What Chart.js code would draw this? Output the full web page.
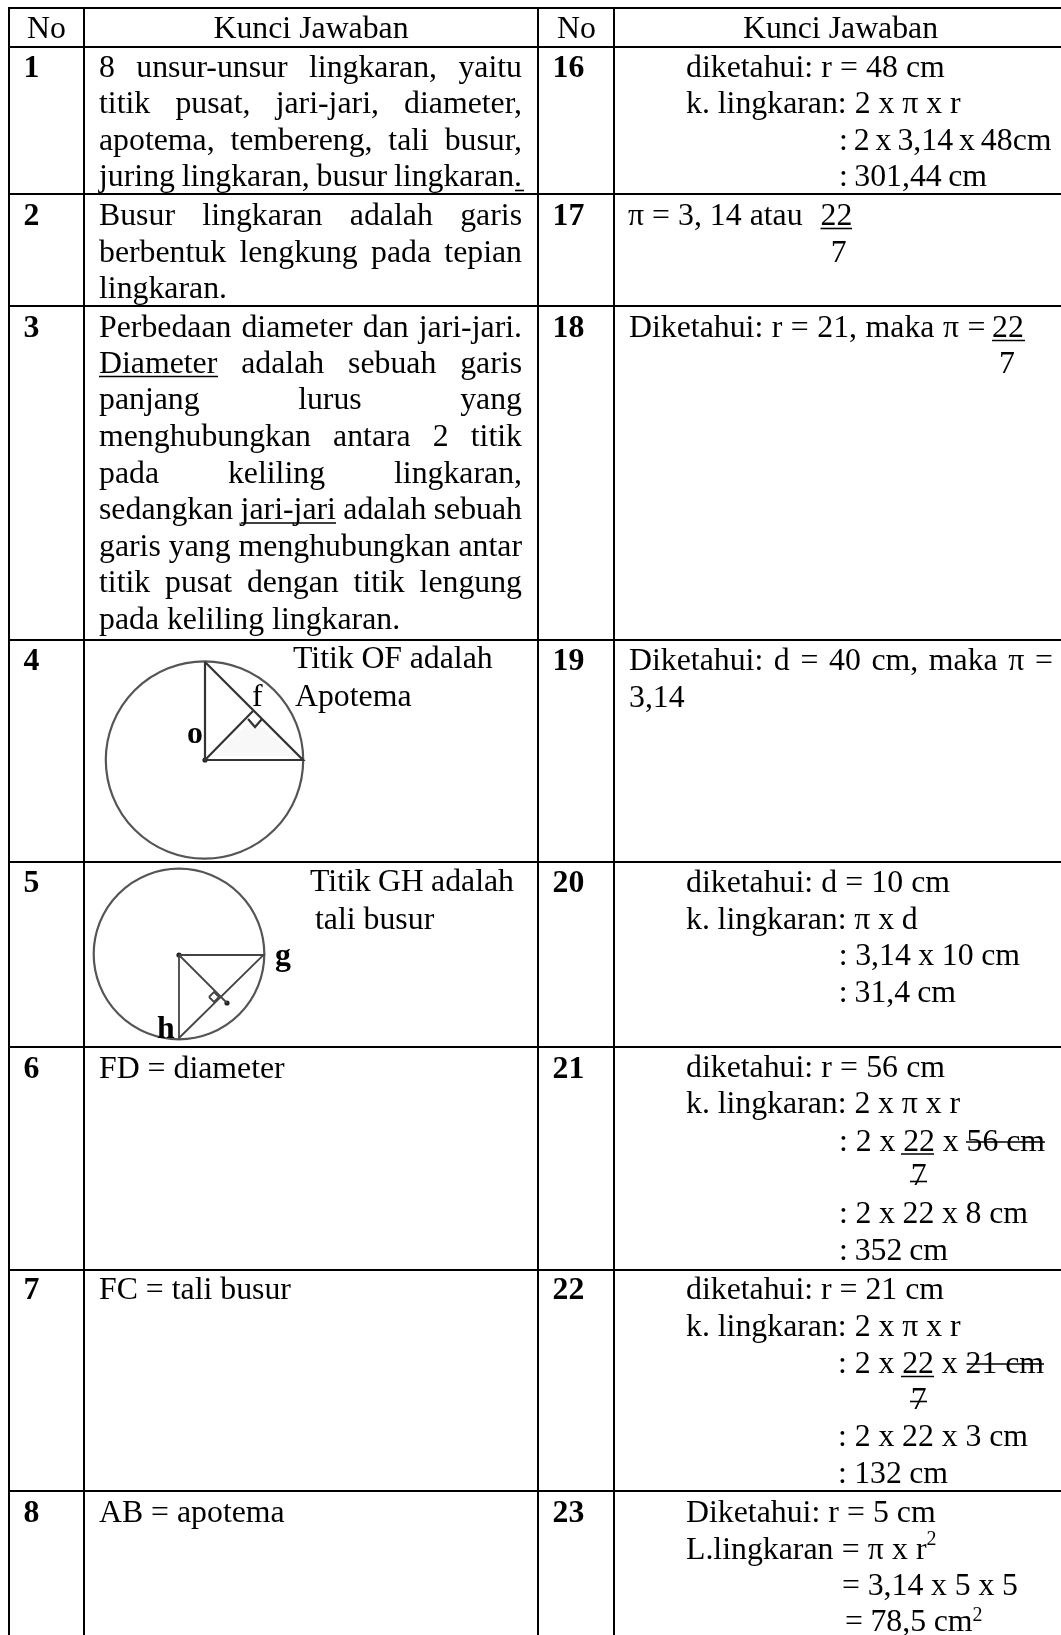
<!DOCTYPE html>
<html>
<head>
<meta charset="utf-8">
<style>
    html, body { margin: 0; padding: 0; background: #fff; }
    canvas { display: block; }
</style>
<script src="https://cdn.jsdelivr.net/npm/chart.js@4"></script>
</head>
<body>
<canvas id="answerTable" width="1061" height="1635"></canvas>
<script>
const PAGE_W = 1061;
const PAGE_H = 1635;
const FONT = '"Liberation Serif"';
const TEXT_SIZE = 31.8;

// table rules
const columnRules = [9, 84, 538, 614];
const rowRules = [8, 47, 194, 306, 640, 862, 1047, 1270, 1491];

// header and question numbers
const headerLabels = [["No", 27, 37.7], ["Kunci Jawaban", 213.5, 37.7], ["No", 557, 37.7], ["Kunci Jawaban", 743, 37.7]];
const leftNumbers = ["1", "2", "3", "4", "5", "6", "7", "8"];
const rightNumbers = ["16", "17", "18", "19", "20", "21", "22", "23"];
const numberBaselines = [76.7, 225, 336.7, 670, 892, 1078, 1299, 1521.7];

// fitted lines: text, left, right, baseline (word spacing fills the width)
const fittedLines = [
    ["8 unsur-unsur lingkaran, yaitu", 99, 522, 76.7],
    ["titik pusat, jari-jari, diameter,", 99, 522, 113],
    ["apotema, tembereng, tali busur,", 99, 522, 150],
    ["juring lingkaran, busur lingkaran.", 99, 522, 186],
    ["Busur lingkaran adalah garis", 99, 522, 225],
    ["berbentuk lengkung pada tepian", 99, 522, 261.7],
    ["Perbedaan diameter dan jari-jari.", 99, 522, 336.7],
    ["Diameter adalah sebuah garis", 99, 522, 372.7],
    ["panjang lurus yang", 99, 522, 409],
    ["menghubungkan antara 2 titik", 99, 522, 446],
    ["pada keliling lingkaran,", 99, 522, 482.5],
    ["sedangkan jari-jari adalah sebuah", 99, 522, 519],
    ["garis yang menghubungkan antar", 99, 522, 556],
    ["titik pusat dengan titik lengung", 99, 522, 592],
    ["Titik OF adalah", 293, 492.7, 668],
    ["Titik GH adalah", 310, 514, 891],

    ["diketahui: r = 48 cm", 686, 944.8, 76.7],
    ["k. lingkaran: 2 x π x r", 686, 960.7, 113],
    [": 2 x 3,14 x 48cm", 839, 1051.5, 150],
    [": 301,44 cm", 839, 987, 186],
    ["π = 3, 14 atau", 628, 802.6, 225],
    ["Diketahui: r = 21, maka π =", 629, 985.5, 336.7],
    ["Diketahui: d = 40 cm, maka π =", 629, 1053, 669.5],
    ["diketahui: d = 10 cm", 686, 950, 891.7],
    ["k. lingkaran: π x d", 686, 917.7, 928.5],
    [": 3,14 x 10 cm", 838.8, 1020, 964.7],
    [": 31,4 cm", 838.8, 956, 1001.7],
    ["diketahui: r = 56 cm", 686, 945, 1076.7],
    ["k. lingkaran: 2 x π x r", 686, 960, 1113],
    [": 2 x 22 x 56 cm", 839, 1045, 1150.7],
    [": 2 x 22 x 8 cm", 839, 1028, 1223],
    [": 352 cm", 839, 948, 1260],
    ["diketahui: r = 21 cm", 686, 944, 1299],
    ["k. lingkaran: 2 x π x r", 686, 960.7, 1336],
    [": 2 x 22 x 21 cm", 838, 1044, 1372.7],
    [": 2 x 22 x 3 cm", 838, 1028, 1446],
    [": 132 cm", 838, 948, 1482.7],
    ["Diketahui: r = 5 cm", 686, 935.7, 1521.7],
    ["L.lingkaran = π x r", 686, 926.7, 1558.5],
    ["= 3,14 x 5 x 5", 842, 1018, 1594.5],
    ["= 78,5 cm", 845, 972.5, 1631]
];

// plain lines: text, left, baseline
const plainLines = [
    ["lingkaran.", 99, 297.7],
    ["pada keliling lingkaran.", 99, 629],
    ["Apotema", 295, 706],
    ["f", 252, 706],
    ["tali busur", 315, 929],
    ["FD = diameter", 99, 1078],
    ["FC = tali busur", 99, 1299],
    ["AB = apotema", 99, 1521.7],
    ["22", 820.5, 225],
    ["7", 830.7, 261.7],
    ["22", 992, 336.7],
    ["7", 999, 372.7],
    ["3,14", 629, 706.7],
    ["7", 910.7, 1185],
    ["7", 910.7, 1409]
];

const boldLabels = [["o", 187, 743], ["g", 275, 965], ["h", 157, 1038]];
const superscripts = [["2", 926.5, 1545], ["2", 972.5, 1620.7]];

// underlines and strike-throughs: x1, x2, y
const thinRules = [
    [515, 524, 190.5],
    [99, 218, 376.5],
    [241, 336, 523],
    [820.5, 852, 228.5],
    [992, 1025, 340.5],
    [901, 934, 1154],
    [966, 1045, 1142],
    [910, 927, 1181.5],
    [901, 934, 1376.5],
    [966.5, 1044, 1364],
    [910, 927, 1401.5]
];

// circle figures
const circleCentres = [{ x: 204.5, y: 760 }, { x: 179, y: 954 }];
const circleRadii = [98.7, 85.3];
const shadedArea = [[212, 756], [296, 756], [253, 720], [212, 756]];
const upperFigure = [
    [[205, 662], [205, 760], [303, 760], [205, 662]],
    [[205, 760], [253, 711]],
    [[248, 719], [255, 727], [262, 719]]
];
const lowerFigure = [
    [[179, 955], [263.5, 955], [179, 1038], [179, 955]],
    [[179, 955], [227, 1003]],
    [[209, 997], [214, 992], [219, 997], [214, 1002], [209, 997]]
];
const figureDots = [{ x: 205, y: 760 }, { x: 179, y: 955 }, { x: 227, y: 1003 }];

function ruleDataset(points, width, color) {
    return {
        data: points.map(p => ({ x: p[0], y: p[1] })),
        showLine: true,
        borderColor: color,
        borderWidth: width,
        pointRadius: 0,
        tension: 0,
        clip: false
    };
}

const columnDatasets = columnRules.map(x => ruleDataset([[x, 7], [x, PAGE_H]], 2, "#000"));
const rowDatasets = rowRules.map(y => ruleDataset([[8, y], [PAGE_W, y]], 2, "#000"));
const thinDatasets = thinRules.map(r => ruleDataset([[r[0], r[2]], [r[1], r[2]]], 1.6, "#000"));
const upperDatasets = upperFigure.map(s => ruleDataset(s, 2.2, "#333"));
const lowerDatasets = lowerFigure.map(s => ruleDataset(s, 1.8, "#444"));

// faint shading under the first triangle
const shadeDataset = {
    ...ruleDataset(shadedArea, 0, "rgba(0,0,0,0)"),
    fill: "shape",
    backgroundColor: "#f8f8f8"
};

const circleDatasets = circleCentres.map((c, i) => ({
    data: [c],
    pointRadius: circleRadii[i],
    pointHoverRadius: circleRadii[i],
    pointBackgroundColor: "rgba(0,0,0,0)",
    pointBorderColor: "#555",
    pointBorderWidth: 2.2,
    clip: false
}));

const dotDataset = {
    data: figureDots,
    pointRadius: 2.6,
    pointBackgroundColor: "#222",
    pointBorderWidth: 0
};

const tableText = {
    id: "tableText",
    afterDatasetsDraw(chart) {
        const ctx = chart.ctx;
        const sx = chart.scales.x;
        const sy = chart.scales.y;
        const put = (label, x, y) => ctx.fillText(label, sx.getPixelForValue(x), sy.getPixelForValue(y));

        ctx.save();
        ctx.fillStyle = "#000";
        ctx.textBaseline = "alphabetic";
        ctx.textAlign = "left";

        ctx.font = `${TEXT_SIZE}px ${FONT}`;
        headerLabels.forEach(t => put(t[0], t[1], t[2]));
        plainLines.forEach(t => put(t[0], t[1], t[2]));

        // word spacing stretches or squeezes each line to its measured width
        fittedLines.forEach(t => {
            ctx.wordSpacing = "0px";
            const gaps = t[0].split(" ").length - 1;
            const spare = t[2] - t[1] - ctx.measureText(t[0]).width;
            ctx.wordSpacing = (spare / gaps) + "px";
            put(t[0], t[1], t[3]);
        });
        ctx.wordSpacing = "0px";

        ctx.font = `bold ${TEXT_SIZE}px ${FONT}`;
        leftNumbers.forEach((n, i) => put(n, 23.5, numberBaselines[i]));
        rightNumbers.forEach((n, i) => put(n, 552.5, numberBaselines[i]));
        boldLabels.forEach(t => put(t[0], t[1], t[2]));

        ctx.font = `20px ${FONT}`;
        superscripts.forEach(t => put(t[0], t[1], t[2]));
        ctx.restore();
    }
};

// the first dataset is painted last, so the shading goes at the end
new Chart(document.getElementById("answerTable"), {
    type: "scatter",
    data: {
        datasets: [...columnDatasets, ...rowDatasets, ...thinDatasets, ...upperDatasets, ...lowerDatasets, ...circleDatasets, dotDataset, shadeDataset]
    },
    options: {
        responsive: false,
        animation: false,
        layout: { padding: 0, autoPadding: false },
        plugins: { legend: { display: false }, tooltip: { enabled: false } },
        scales: {
            x: { type: "linear", display: false, min: 0, max: PAGE_W },
            y: { type: "linear", display: false, min: 0, max: PAGE_H, reverse: true }
        }
    },
    plugins: [tableText]
});
</script>
</body>
</html>
